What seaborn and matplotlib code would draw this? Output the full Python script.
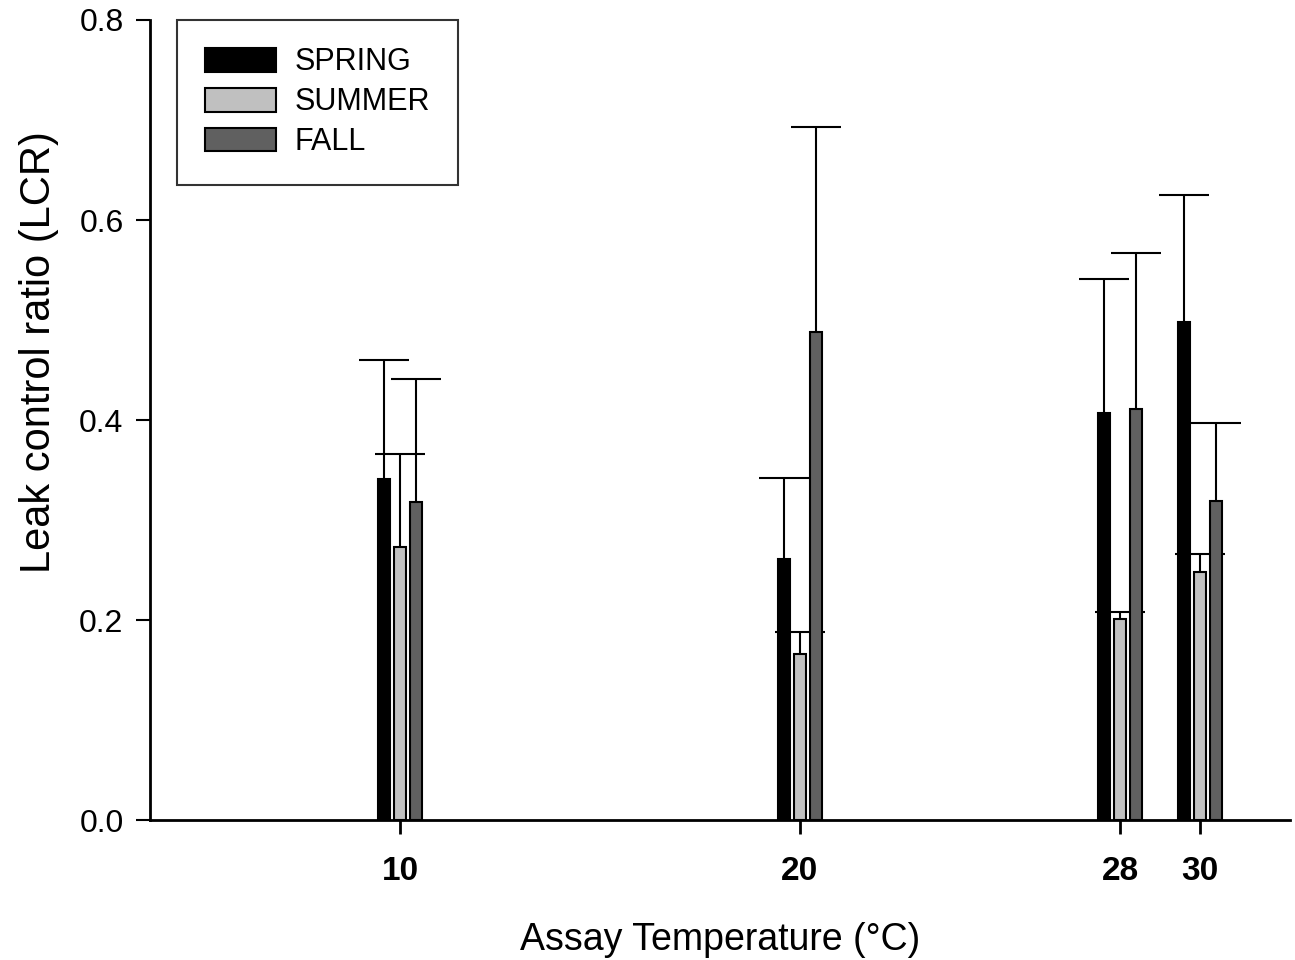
import matplotlib
matplotlib.use("Agg")
import matplotlib.pyplot as plt
from matplotlib.patches import Patch
import seaborn as sns
import pandas as pd
import numpy as np

# ---- data ----
temps = [10, 20, 28, 30]
seasons = ["SPRING", "SUMMER", "FALL"]
spring = [0.341, 0.261, 0.407, 0.498]
summer = [0.273, 0.166, 0.201, 0.248]
fall = [0.318, 0.488, 0.411, 0.319]
spring_err = [0.119, 0.081, 0.134, 0.127]
summer_err = [0.093, 0.022, 0.007, 0.018]
fall_err = [0.123, 0.205, 0.156, 0.078]
colors = ["#000000", "#c0c0c0", "#606060"]

means = {"SPRING": spring, "SUMMER": summer, "FALL": fall}
errs = {"SPRING": spring_err, "SUMMER": summer_err, "FALL": fall_err}

rows = []
for s in seasons:
    for t, m in zip(temps, means[s]):
        rows.append({"temp": t, "season": s, "lcr": m})
df = pd.DataFrame(rows)

sns.set_theme(style="ticks")
plt.rcParams["font.family"] = ["Liberation Sans", "DejaVu Sans"]
plt.rcParams["text.color"] = "black"
plt.rcParams["axes.labelcolor"] = "black"
plt.rcParams["xtick.color"] = "black"
plt.rcParams["ytick.color"] = "black"

fig = plt.figure(figsize=(12.95, 9.6), dpi=100)
ax = fig.add_axes([150 / 1295, 140 / 960, 1140 / 1295, 800 / 960])

sns.barplot(data=df, x="temp", y="lcr", hue="season", hue_order=seasons,
            palette=colors, native_scale=True, width=0.6, gap=0.25,
            edgecolor="black", linewidth=1.5, errorbar=None, legend=False,
            ax=ax, zorder=3)

# error bars (upper only), drawn behind the bars
for i, s in enumerate(seasons):
    cont = ax.containers[i]
    xs = [p.get_x() + p.get_width() / 2 for p in cont.patches]
    hs = [p.get_height() for p in cont.patches]
    e = np.array(errs[s])
    eb = ax.errorbar(xs, hs, yerr=[np.zeros_like(e), e], fmt="none",
                     ecolor="black", elinewidth=1.5, capsize=18, capthick=1.5,
                     zorder=2)
    caplines = eb[1]
    if len(caplines) == 2:
        caplines[0].set_visible(False)

ax.set_xlim(3.75, 32.25)
ax.set_ylim(0, 0.8)
ax.set_xticks(temps)
ax.set_xticklabels([str(t) for t in temps], fontsize=24, fontweight="bold")
ax.set_yticks([0.0, 0.2, 0.4, 0.6, 0.8])
ax.set_yticklabels(["0.0", "0.2", "0.4", "0.6", "0.8"], fontsize=23)
ax.tick_params(axis="x", length=10, width=2, pad=16, color="black")
ax.tick_params(axis="y", length=10, width=1.5, pad=9, color="black")

for side in ["top", "right"]:
    ax.spines[side].set_visible(False)
for side in ["left", "bottom"]:
    ax.spines[side].set_linewidth(2)
    ax.spines[side].set_color("black")

ax.set_xlabel("Assay Temperature (°C)", fontsize=27)
ax.set_ylabel("Leak control ratio (LCR)", fontsize=30)
ax.xaxis.set_label_coords(0.5, -0.128)
ax.yaxis.set_label_coords(-0.08, 0.585)

handles = [Patch(facecolor=c, edgecolor="black", linewidth=1.5) for c in colors]
leg = ax.legend(handles, seasons, loc="upper left",
                bbox_to_anchor=(27 / 1140, 1.0), borderaxespad=0,
                fontsize=22, frameon=True, fancybox=False,
                handlelength=2.35, handleheight=0.82, handletextpad=0.6,
                labelspacing=0.32, borderpad=0.9)
leg.get_frame().set_edgecolor("black")
leg.get_frame().set_linewidth(1.5)

fig.savefig("out.png", dpi=100)
